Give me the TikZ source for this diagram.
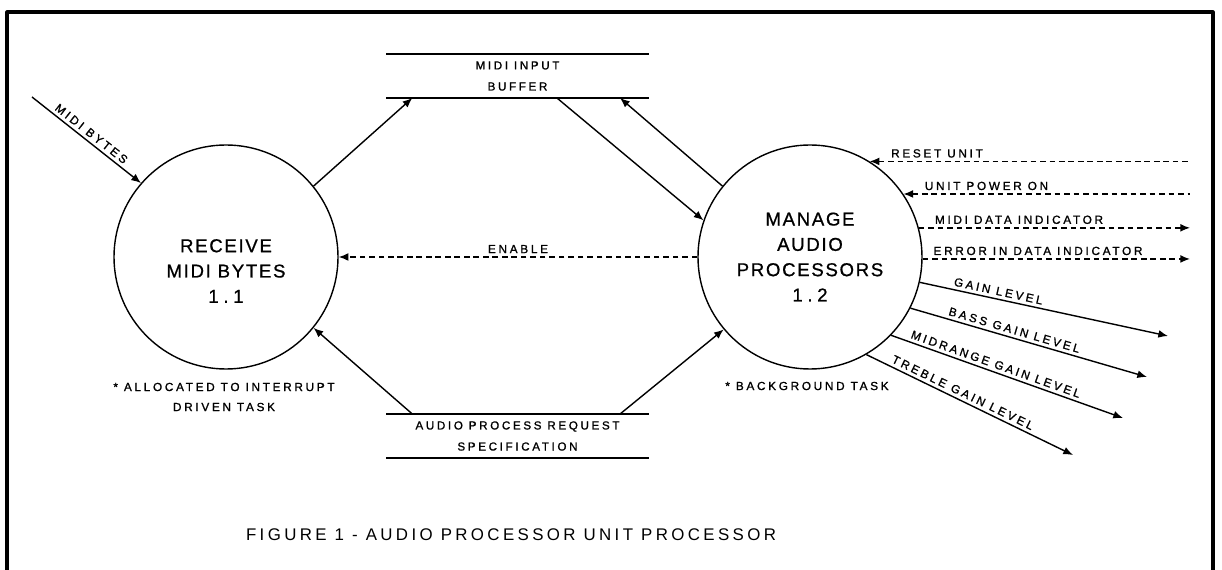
\documentclass[tikz,border=0pt]{standalone}
\usepackage{fontspec}
\usepackage{tikz}
\usetikzlibrary{arrows.meta,positioning,calc}

% Plotter-like lettering: wide letter spacing on a plain sans.
\newfontfamily\plotfont[LetterSpace=23, FakeBold=1.2]{Liberation Sans}
\newfontfamily\plotfontlarge[LetterSpace=9, FakeBold=0.8]{Liberation Sans}
\newfontfamily\plotfontcaption[LetterSpace=20]{Liberation Sans}

\begin{document}
\begin{tikzpicture}[
      x=0.2mm,
      y=-0.2mm,
      line join=round,
      line width=0.8pt,
      >={Latex[length=5.5pt,width=4.5pt]},
      process/.style={draw, circle, minimum size=44.8mm, inner sep=0pt},
      store/.style={minimum width=52.6mm, minimum height=8.8mm,
        inner sep=0pt, outer sep=0pt, align=center,
        font=\plotfont\fontsize{6.6}{12}\selectfont},
      storeline/.style={line width=1.1pt},
      flow/.style={->},
      signal/.style={dash pattern=on 3.2pt off 2.2pt},
      smalltext/.style={font=\plotfont\fontsize{6.7}{11.4}\selectfont,
        inner sep=1.8pt},
      bigtext/.style={font=\plotfontlarge\fontsize{10.6}{14.4}\selectfont,
        align=center},
      frame/.style={line width=1.8pt}
    ]
      % Page size, and the outer frame whose bottom edge runs off the page.
      \useasboundingbox (0,0) rectangle (1222,570);
      \draw[frame] (7,580) -- (7,12) -- (1213,12) -- (1213,580);

      % The two processes, with their names set a little apart.
      \node[process] (receive) at (226,257) {};
      \node[process] (manage)  at (810,257) {};
      \node[bigtext] (receive-text) at (226,271)
        {RECEIVE\\MIDI BYTES\\1\hspace{0.25em}.\hspace{0.25em}1};
      \node[bigtext] (manage-text)  at (810,257)
        {MANAGE\\AUDIO\\PROCESSORS\\1\hspace{0.25em}.\hspace{0.25em}2};

      % Data stores: two rules with the name between them.
      \node[store] (buffer)  at (517.5,76)  {MIDI INPUT\\BUFFER};
      \node[store] (request) at (517.5,436)
        {AUDIO PROCESS REQUEST\\SPECIFICATION};
      \foreach \st in {buffer,request} {
        \draw[storeline] (\st.north west) -- (\st.north east);
        \draw[storeline] (\st.south west) -- (\st.south east);
      }

      % Flows between the processes and the stores.
      \coordinate (bytes-in) at (32,97);
      \draw[flow] (bytes-in) -- (receive.139)
        node[midway, above, sloped, smalltext] {MIDI BYTES};
      \draw[flow] (receive.39) --
        ($(buffer.south west)!0.1!(buffer.south east)$);
      \draw[flow] ($(buffer.south west)!0.65!(buffer.south east)$) --
        (manage.161);
      \draw[flow] (manage.141) --
        ($(buffer.south west)!0.89!(buffer.south east)$);
      \draw[flow] ($(request.north west)!0.1!(request.north east)$) --
        (receive.321.4);
      \draw[flow] ($(request.north west)!0.89!(request.north east)$) --
        (manage.220);
      \draw[flow, signal] (manage.180) -- (receive.0)
        node[midway, above, smalltext] {ENABLE};

      % Control signals along the right edge.
      \coordinate (rim) at (1190,0);
      \draw[<-, signal] (manage.58) -- (manage.58 -| rim)
        node[pos=0, anchor=south west, xshift=10pt, smalltext] {RESET UNIT};
      \draw[<-, signal] (manage.34) -- (manage.34 -| rim)
        node[pos=0, anchor=south west, xshift=10pt, smalltext] {UNIT POWER ON};
      \draw[->, signal] (manage.15) -- (manage.15 -| rim)
        node[pos=0, anchor=south west, xshift=7pt, smalltext]
        {MIDI DATA INDICATOR};
      \draw[->, signal] (manage.359) -- (manage.359 -| rim)
        node[pos=0, anchor=south west, xshift=4pt, smalltext]
        {ERROR IN DATA INDICATOR};

      % Gain levels fan out from the lower right.
      \coordinate (gain-out)   at (1168,336);
      \coordinate (bass-out)   at (1147,377);
      \coordinate (mid-out)    at (1123,418);
      \coordinate (treble-out) at (1073,455);
      \draw[flow] (manage.347.4) -- (gain-out)
        node[pos=0.31, above, sloped, smalltext] {GAIN LEVEL};
      \draw[flow] (manage.333.2) -- (bass-out)
        node[pos=0.43, above, sloped, smalltext] {BASS GAIN LEVEL};
      \draw[flow] (manage.316.1) -- (mid-out)
        node[pos=0.44, above, sloped, smalltext] {MIDRANGE GAIN LEVEL};
      \draw[flow] (manage.300.7) -- (treble-out)
        node[pos=0.45, above, sloped, smalltext] {TREBLE GAIN LEVEL};

      % Notes under the processes, and the caption.
      \node[smalltext, align=center] (receive-note) at (224,397)
        {* ALLOCATED TO INTERRUPT\\DRIVEN TASK};
      \node[smalltext] (manage-note) at (807,386) {* BACKGROUND TASK};
      \node[font=\plotfontcaption\fontsize{9.6}{12}\selectfont] (caption)
        at (511,535) {FIGURE 1 - AUDIO PROCESSOR UNIT PROCESSOR};
    \end{tikzpicture}
\end{document}
